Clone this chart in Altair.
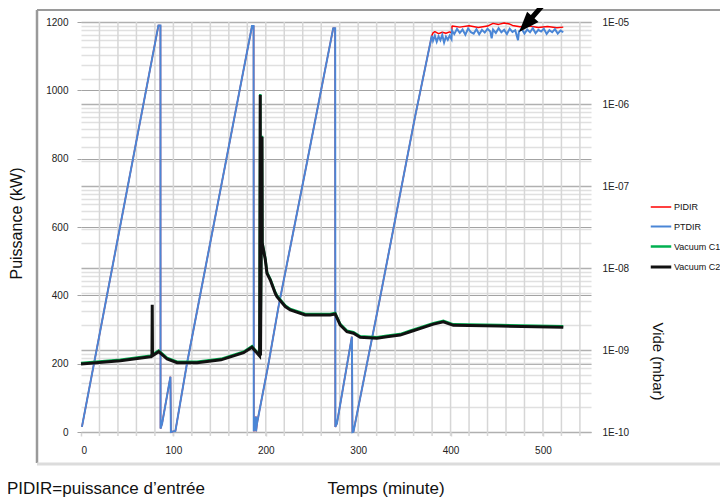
import altair as alt
import pandas as pd

# ---------------- data ----------------
series_names = ["PIDIR", "PTDIR", "Vacuum C1", "Vacuum C2"]
series_colors = ["#ff0000", "#4a86d6", "#00b050", "#111111"]
series_widths = [1.5, 3, 4, 2]

# power ramps shared by PIDIR (red) and PTDIR (blue): time (min), power (kW)
ramp_t = [1, 83.8, 86.0, 86.1, 87.8, 96.8, 97.3, 102.2, 114.8, 185.1, 186.8, 187.0,
          189.3, 189.5, 190.5, 203.0, 213.8, 243.0, 273.0, 275.1, 275.3, 277.0, 293.2,
          293.8, 294.9, 323.2, 361.6, 379.7]
ramp_p = [15, 1190, 1190, 10, 25, 162, 0, 3, 202, 1188, 1188, 2,
          45, 2, 25, 201, 367, 767, 1182, 1182, 15, 25, 279,
          0, 1, 386, 923, 1160]

# PTDIR plateau (blue)
blue_plat_t = [381, 383, 385, 387, 389, 391, 393, 395, 397, 399, 401, 401.5, 404, 407,
               410, 413, 416, 419, 422, 425, 428, 431, 434, 437, 440, 443, 444.5, 446,
               449, 452, 455, 458, 461, 464, 467, 470, 473, 474, 477, 480, 483, 486, 489,
               492, 495, 498, 501, 504, 507, 510, 513, 516, 519, 522]
blue_plat_p = [1145, 1160, 1142, 1158, 1147, 1162, 1140, 1157, 1148, 1160, 1150, 1175, 1165, 1180,
               1168, 1178, 1163, 1181, 1170, 1166, 1179, 1164, 1177, 1169, 1180, 1172, 1152, 1178,
               1168, 1182, 1170, 1177, 1165, 1180, 1171, 1176, 1147, 1172, 1180, 1166, 1178, 1170, 1182,
               1167, 1177, 1172, 1180, 1165, 1176, 1170, 1179, 1166, 1175, 1170]

# PIDIR plateau (red)
red_plat_t = [381, 383, 387, 391, 395, 399, 401.3, 401.6, 410, 420, 430, 440, 446, 452,
              458, 464, 467, 475, 485, 495, 505, 515, 522]
red_plat_p = [1168, 1172, 1166, 1170, 1167, 1171, 1168, 1188, 1185, 1189, 1184, 1188, 1196, 1193,
              1197, 1194, 1190, 1186, 1188, 1184, 1187, 1183, 1185]

# vacuum (mbar) shared by C1 and C2
vac_t = [0, 42.7, 75.1, 84.1, 93.2, 104, 125.6, 151.6, 176, 185.1, 193.3, 194.0, 194.3,
         195.9, 196.2, 199.5, 201.3, 204.9, 210.3, 212.1, 221.1, 226.5, 242.7, 269.7, 275.1,
         280.5, 287.8, 294.9, 302.2, 320.2, 331, 345.4, 356.2, 381.4, 392.2, 403, 453.5, 522]
vac_v = [6.75e-10, 7.41e-10, 8.28e-10, 9.55e-10, 7.76e-10, 7.0e-10, 7.0e-10, 7.59e-10, 9.27e-10,
         1.08e-9, 8.45e-10, 1.29e-6, 8.6e-10, 3.98e-7, 2.0e-8, 1.26e-8, 8.61e-9, 7.14e-9, 4.9e-9,
         4.47e-9, 3.39e-9, 3.08e-9, 2.67e-9, 2.67e-9, 2.75e-9, 2.02e-9, 1.67e-9, 1.60e-9, 1.43e-9,
         1.39e-9, 1.45e-9, 1.52e-9, 1.67e-9, 2.07e-9, 2.21e-9, 2.0e-9, 1.96e-9, 1.89e-9]
# extra small spike only on C2
c2_spike_t = [76.8, 77.1, 77.4]
c2_spike_v = [8.4e-10, 3.55e-9, 8.5e-10]

# annotation arrow (tail, head centre)
arrow_t = [515.0]
arrow_p = [1296.0]
arrow_t2 = [481.6]
arrow_p2 = [1193.0]

x_labels = [0, 100, 200, 300, 400, 500]
x_grid = list(range(20, 560, 20))
p_ticks = [0, 200, 400, 600, 800, 1000, 1200]
v_ticks = [m * 10.0 ** d for d in range(-10, -5) for m in range(1, 10)] + [1e-5]

# ---------------- frames ----------------
blue_df = pd.DataFrame({"t": ramp_t + blue_plat_t, "P": ramp_p + blue_plat_p, "series": "PTDIR"})
red_df = pd.DataFrame({"t": ramp_t + red_plat_t, "P": ramp_p + red_plat_p, "series": "PIDIR"})
c1_df = pd.DataFrame({"t": vac_t, "V": vac_v, "series": "Vacuum C1"})
c2_df = pd.DataFrame({"t": vac_t + c2_spike_t, "V": vac_v + c2_spike_v,
                      "series": "Vacuum C2"}).sort_values("t")
arrow_df = pd.DataFrame({"t": arrow_t, "P": arrow_p, "t2": arrow_t2, "P2": arrow_p2})
grid_df = pd.DataFrame({"t": x_grid})
one = pd.DataFrame({"a": [1]})

FONT = "Liberation Sans"

x_enc = alt.X("t:Q", scale=alt.Scale(domain=[0, 552], nice=False, zero=False),
              axis=alt.Axis(values=x_labels, format="d", labelOverlap=False,
                            grid=False, tickColor="#d4d4d4", tickWidth=1.5,
                            tickSize=4, domain=False, labelPadding=9, labelFontSize=10,
                            labelFont=FONT, labelColor="#222", title=None))

y_left = alt.Y("P:Q", scale=alt.Scale(domain=[0, 1200], nice=False),
               axis=alt.Axis(values=p_ticks, format="d", labelOverlap=False,
                             grid=True, gridColor="#a3a3a3", gridWidth=1,
                             tickColor="#a3a3a3", tickSize=4, domain=False, labelPadding=9,
                             labelFontSize=10, labelFont=FONT, labelColor="#222",
                             title="Puissance (kW)", titleFont=FONT, titleFontSize=16,
                             titleFontWeight="normal", titleColor="#111", titleX=-65, titleY=201,
                             titleAngle=-90, titleAlign="center", titleBaseline="middle"))

decade_test = "abs(log(datum.value)/LN10 - round(log(datum.value)/LN10)) < 0.01"
y_right = alt.Y("V:Q", scale=alt.Scale(type="log", domain=[1e-10, 1e-5], nice=False),
                axis=alt.Axis(orient="right", values=v_ticks, grid=True, labelOverlap=False,
                              gridColor={"condition": {"test": decade_test, "value": "#b0b0b0"},
                                         "value": "#e0e0e0"},
                              gridWidth=1.5, ticks=False, domain=False, labelPadding=11,
                              labelExpr=decade_test + " ? '1E-' + (round(-log(datum.value)/LN10) < 10 ? '0' : '') + round(-log(datum.value)/LN10) : ''",
                              labelFontSize=10, labelFont=FONT, labelColor="#222",
                              title="Vide (mbar)", titleFont=FONT, titleFontSize=15,
                              titleFontWeight="normal", titleColor="#111", titleX=66, titleY=339,
                              titleAngle=90, titleAlign="center", titleBaseline="middle"))

color_enc = alt.Color("series:N", scale=alt.Scale(domain=series_names, range=series_colors), title=None)
width_enc = alt.StrokeWidth("series:N", scale=alt.Scale(domain=series_names, range=series_widths), title=None)

vgrid = alt.Chart(grid_df).mark_rule(color="#d6d6d6", strokeWidth=1.5).encode(
    x=x_enc, y=alt.value(0), y2=alt.value(414))

red = alt.Chart(red_df).mark_line(strokeJoin="bevel").encode(
    x=x_enc, y=y_left, color=color_enc, strokeWidth=width_enc, order="t:Q")
blue = alt.Chart(blue_df).mark_line().encode(
    x=x_enc, y=y_left, color=color_enc, strokeWidth=width_enc, order="t:Q")

arrow_line = alt.Chart(arrow_df).mark_rule(color="black", strokeWidth=5).encode(
    x="t:Q", y="P:Q", x2="t2:Q", y2="P2:Q")
arrow_head = alt.Chart(arrow_df).mark_point(shape="M0,-1L0.75,1L-0.75,1Z", filled=True, color="black",
                                            size=420, angle=222, opacity=1).encode(x="t2:Q", y="P2:Q")

frame_top = alt.Chart(one).mark_rule(color="#9a9a9a", strokeWidth=2).encode(
    x=alt.value(-44), x2=alt.value(660), y=alt.value(-12))
frame_left = alt.Chart(one).mark_rule(color="#9a9a9a", strokeWidth=2.5).encode(
    x=alt.value(-44), y=alt.value(-12), y2=alt.value(441))
frame_bottom = alt.Chart(one).mark_rule(color="#dcdcdc", strokeWidth=3).encode(
    x=alt.value(-44), x2=alt.value(660), y=alt.value(442))

x_title = alt.Chart(one).mark_text(font=FONT, fontSize=17, color="#111", align="center",
                                   baseline="middle").encode(
    x=alt.value(305), y=alt.value(467), text=alt.value("Temps (minute)"))
note = alt.Chart(one).mark_text(font=FONT, fontSize=17, color="#111", align="left",
                                baseline="middle").encode(
    x=alt.value(-74), y=alt.value(467), text=alt.value("PIDIR=puissance d’entrée"))

c1 = alt.Chart(c1_df).mark_line(yOffset=-1).encode(x=x_enc, y=y_right, color=color_enc, strokeWidth=width_enc, order="t:Q")
c2 = alt.Chart(c2_df).mark_line().encode(x=x_enc, y=y_right, color=color_enc, strokeWidth=width_enc, order="t:Q")

left = alt.layer(frame_top, frame_left, frame_bottom, vgrid, red, blue, arrow_line, arrow_head, x_title, note)
right = alt.layer(c1, c2)

chart = alt.layer(left, right).resolve_scale(y="independent").properties(
    width=510, height=410,
    padding={"left": 73, "top": 14, "right": 129, "bottom": 68},
    autosize=alt.AutoSizeParams(type="none"),
    background="white",
).configure_view(stroke=None).configure_legend(
    orient="none", legendX=568, legendY=174, symbolType="stroke", symbolSize=420,
    labelFont=FONT, labelFontSize=9, labelColor="#111", labelOffset=1, rowPadding=3,
)

chart.save("out.html", embed_options={"renderer": "svg", "actions": False})
